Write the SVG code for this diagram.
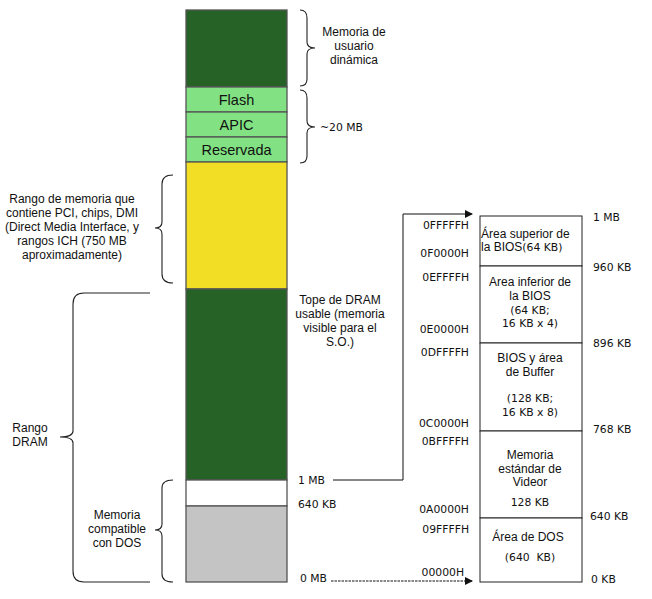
<svg xmlns="http://www.w3.org/2000/svg" width="652" height="599" viewBox="0 0 652 599">
<style>
.t{font-family:"Liberation Sans",Arial,sans-serif;font-size:12px;fill:#111;text-anchor:middle}
.big{font-size:14.5px}
.v{font-family:"DejaVu Sans",Verdana,sans-serif;font-size:10.8px;fill:#111}
.r{text-anchor:end}
.blk{stroke:#555;stroke-width:1.3}
.br{fill:none;stroke:#222;stroke-width:1.1}
.cell{fill:#fff;stroke:#222;stroke-width:1}
.ln{fill:none;stroke:#111;stroke-width:1}
</style>
<defs>
<marker id="ah" markerWidth="8" markerHeight="8" refX="7" refY="4" orient="auto" markerUnits="userSpaceOnUse">
<path d="M0,0 L8,4 L0,8 z" fill="#111"/>
</marker>
</defs>
<rect width="652" height="599" fill="#fff"/>

<g id="col-usuario"><rect class="blk" x="186" y="10" width="101" height="77" fill="#266126"/></g>
<g id="col-flash"><rect class="blk" x="186" y="87" width="101" height="25" fill="#82e283"/><text class="t big" x="236.5" y="104.5">Flash</text></g>
<g id="col-apic"><rect class="blk" x="186" y="112" width="101" height="25" fill="#82e283"/><text class="t big" x="236.5" y="129.5">APIC</text></g>
<g id="col-reservada"><rect class="blk" x="186" y="137" width="101" height="25" fill="#82e283"/><text class="t big" x="236.5" y="155">Reservada</text></g>
<g id="col-pci"><rect class="blk" x="186" y="162" width="101" height="127" fill="#f2df25"/></g>
<g id="col-dram"><rect class="blk" x="186" y="289" width="101" height="191" fill="#266126"/></g>
<g id="col-white"><rect class="blk" x="186" y="480" width="101" height="26" fill="#fff"/></g>
<g id="col-dos"><rect class="blk" x="186" y="506" width="101" height="76" fill="#c4c4c4"/></g>

<g id="braces">
<path class="br" d="M300,10 Q307,10 307,18 L307,42 Q307,48 315,48 Q307,48 307,54 L307,79 Q307,86 300,86"/>
<path class="br" d="M300,90 Q307,90 307,98 L307,121 Q307,127 315,127 Q307,127 307,133 L307,156 Q307,163 300,163"/>
<path class="br" d="M173,175 Q162,175 162,184 L162,222 Q162,228 155,228 Q162,228 162,234 L162,274 Q162,283 173,283"/>
<path class="br" d="M150,293 L84,293 Q73,293 73,304 L73,431 Q73,437 60,437 Q73,437 73,443 L73,571 Q73,582 84,582 L150,582"/>
<path class="br" d="M173,480 Q162,480 162,488 L162,524 Q162,530 155,530 Q162,530 162,536 L162,574 Q162,582 173,582"/>
</g>

<g id="labels">
<text class="t"><tspan x="354" y="36">Memoria de</tspan><tspan x="354" y="50">usuario</tspan><tspan x="354" y="64">dinámica</tspan></text>
<text class="v" x="320" y="131">~20 MB</text>
<text class="t"><tspan x="72" y="203">Rango de memoria que</tspan><tspan x="72" y="217">contiene PCI, chips, DMI</tspan><tspan x="72" y="231">(Direct Media Interface, y</tspan><tspan x="72" y="245">rangos ICH (750 MB</tspan><tspan x="72" y="259">aproximadamente)</tspan></text>
<text class="t"><tspan x="340" y="304">Tope de DRAM</tspan><tspan x="340" y="318">usable (memoria</tspan><tspan x="340" y="332">visible para el</tspan><tspan x="340" y="346">S.O.)</tspan></text>
<text class="t"><tspan x="30" y="432">Rango</tspan><tspan x="30" y="446">DRAM</tspan></text>
<text class="t"><tspan x="117" y="519">Memoria</tspan><tspan x="117" y="533">compatible</tspan><tspan x="117" y="547">con DOS</tspan></text>
<text class="v" x="298" y="484">1 MB</text>
<text class="v" x="298" y="508">640 KB</text>
<text class="v" x="300" y="582">0 MB</text>
</g>

<g id="table">
<g id="row-bios-sup"><rect class="cell" x="480" y="216" width="102" height="50"/>
<text class="t" style="text-anchor:start"><tspan x="481" y="238">Área superior de</tspan><tspan x="481" y="251">la BIOS</tspan><tspan style="font-family:'DejaVu Sans',sans-serif;font-size:10.8px">(64 KB)</tspan></text></g>
<g id="row-bios-inf"><rect class="cell" x="480" y="266" width="102" height="77"/>
<text class="t"><tspan x="530" y="286">Area inferior de</tspan><tspan x="530" y="300">la BIOS</tspan></text>
<text class="v" style="text-anchor:middle"><tspan x="530" y="314">(64 KB;</tspan><tspan x="530" y="327">16 KB x 4)</tspan></text></g>
<g id="row-buffer"><rect class="cell" x="480" y="343" width="102" height="88"/>
<text class="t"><tspan x="530" y="362">BIOS y área</tspan><tspan x="530" y="376">de Buffer</tspan></text>
<text class="v" style="text-anchor:middle"><tspan x="530" y="402">(128 KB;</tspan><tspan x="530" y="416">16 KB x 8)</tspan></text></g>
<g id="row-video"><rect class="cell" x="480" y="431" width="102" height="87"/>
<text class="t"><tspan x="530" y="459">Memoria</tspan><tspan x="530" y="473">estándar de</tspan><tspan x="530" y="486">Videor</tspan></text>
<text class="v" style="text-anchor:middle" x="530" y="506">128 KB</text></g>
<g id="row-dos"><rect class="cell" x="480" y="518" width="102" height="64"/>
<text class="t" x="528" y="541">Área de DOS</text>
<text class="v" style="text-anchor:middle;white-space:pre" x="530" y="561">(640  KB)</text></g>
</g>

<g id="addresses">
<text class="v r" x="469" y="229">0FFFFFH</text>
<text class="v r" x="469" y="257">0F0000H</text>
<text class="v r" x="469" y="281">0EFFFFH</text>
<text class="v r" x="469" y="333">0E0000H</text>
<text class="v r" x="469" y="356">0DFFFFH</text>
<text class="v r" x="469" y="427">0C0000H</text>
<text class="v r" x="469" y="445">0BFFFFH</text>
<text class="v r" x="469" y="513">0A0000H</text>
<text class="v r" x="469" y="533">09FFFFH</text>
<text class="v r" x="464" y="576">00000H</text>
<text class="v" x="593" y="221">1 MB</text>
<text class="v" x="593" y="271">960 KB</text>
<text class="v" x="593" y="347">896 KB</text>
<text class="v" x="593" y="433">768 KB</text>
<text class="v" x="590" y="520">640 KB</text>
<text class="v" x="591" y="583">0 KB</text>
</g>

<g id="connectors">
<path class="ln" d="M333,480 L403,480 L403,214 L472,214" marker-end="url(#ah)"/>
<path class="ln" d="M331,581 L472,581" stroke-dasharray="2.5,1" marker-end="url(#ah)"/>
</g>
</svg>
